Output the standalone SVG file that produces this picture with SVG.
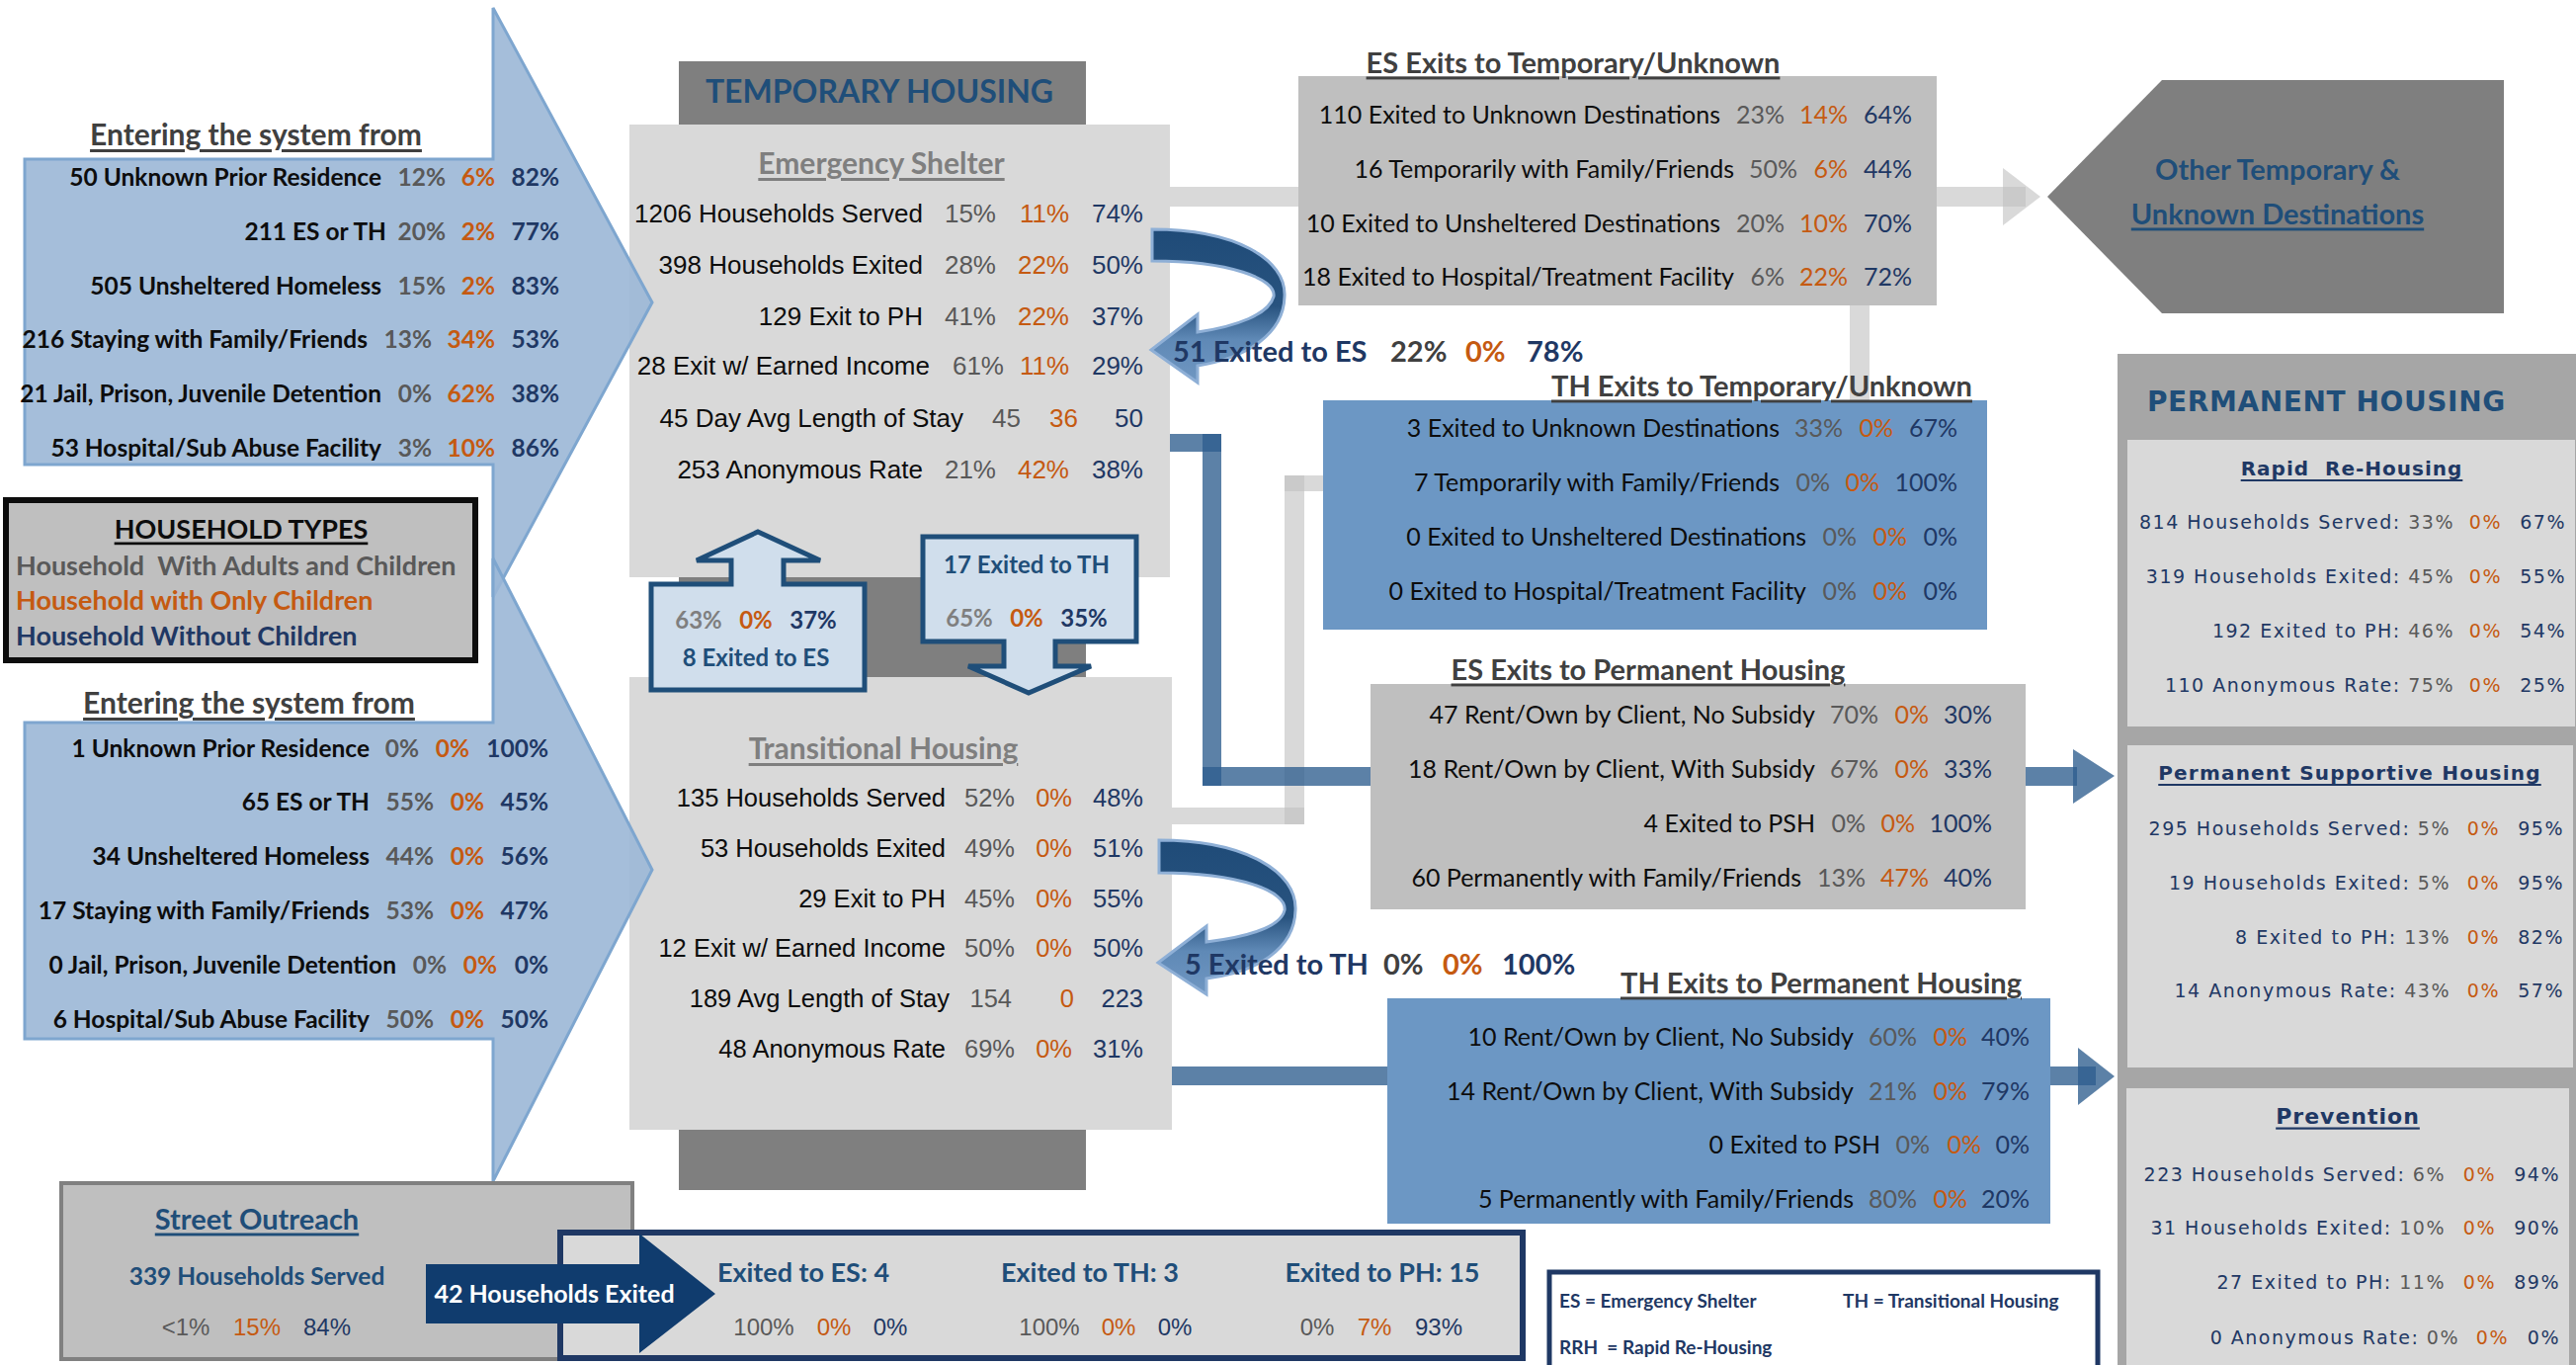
<svg xmlns="http://www.w3.org/2000/svg" width="2607" height="1381" viewBox="0 0 2607 1381">
<style>
text{dominant-baseline:central}
.c{font-family:Lato,"Open Sans",sans-serif}
.a{font-family:"Liberation Sans",Arial,sans-serif}
.w{font-family:"DejaVu Sans",sans-serif}
.b{font-weight:700}
.u{text-decoration:underline}
.e{text-anchor:end}
.m{text-anchor:middle}
.k{fill:#0D0D0D}
.g{fill:#595959}
.lg{fill:#7F7F7F}
.o{fill:#C55A11}
.n{fill:#1F3864}
.nb{fill:#1F4E79}
.t{fill:#404040}
.wh{fill:#FFFFFF}
.bigarrow{fill:#9BB7D6;fill-opacity:.9;stroke:#7EA6CF;stroke-width:3}
.callout{fill:#D0DEEC;stroke:#1F4E79;stroke-width:5}
.gbar{fill:#BFBFBF;opacity:.6}
.bbar{fill:#2E5E8E;opacity:.78}
.curve{fill:url(#cg);stroke:#8EAFD6;stroke-width:3}
.ph{font-size:19px;letter-spacing:1.5px}
</style>
<defs>
<linearGradient id="cg" x1="0" y1="0" x2="0" y2="1">
<stop offset="0" stop-color="#1F4B78"/>
<stop offset="0.5" stop-color="#28537F"/>
<stop offset="0.72" stop-color="#5F89B6"/>
<stop offset="1" stop-color="#7097C2"/>
</linearGradient>
</defs>
<rect width="2607" height="1381" fill="#FFFFFF"/>

<!-- Temporary housing column -->
<g id="temporary-housing">
<rect x="687" y="62" width="412" height="1142" fill="#7F7F7F"/>
<text x="890" y="91" class="c b m nb" font-size="32">TEMPORARY HOUSING</text>
</g>

<g id="emergency-shelter" class="a" font-size="26">
<rect x="637" y="126" width="547" height="458" fill="#D9D9D9"/>
<text x="892" y="164" class="c b m lg u" font-size="30">Emergency Shelter</text>
<text y="216" class="e"><tspan x="934" class="k">1206 Households Served</tspan><tspan x="1008" class="g">15%</tspan><tspan x="1082" class="o">11%</tspan><tspan x="1157" class="n">74%</tspan></text>
<text y="268" class="e"><tspan x="934" class="k">398 Households Exited</tspan><tspan x="1008" class="g">28%</tspan><tspan x="1082" class="o">22%</tspan><tspan x="1157" class="n">50%</tspan></text>
<text y="320" class="e"><tspan x="934" class="k">129 Exit to PH</tspan><tspan x="1008" class="g">41%</tspan><tspan x="1082" class="o">22%</tspan><tspan x="1157" class="n">37%</tspan></text>
<text y="370" class="e"><tspan x="941" class="k">28 Exit w/ Earned Income</tspan><tspan x="1016" class="g">61%</tspan><tspan x="1082" class="o">11%</tspan><tspan x="1157" class="n">29%</tspan></text>
<text y="423" class="e"><tspan x="975" class="k">45 Day Avg Length of Stay</tspan><tspan x="1033" class="g">45</tspan><tspan x="1091" class="o">36</tspan><tspan x="1157" class="n">50</tspan></text>
<text y="475" class="e"><tspan x="934" class="k">253 Anonymous Rate</tspan><tspan x="1008" class="g">21%</tspan><tspan x="1082" class="o">42%</tspan><tspan x="1157" class="n">38%</tspan></text>
</g>

<g id="transitional-housing" class="a" font-size="25.5">
<rect x="637" y="685" width="549" height="458" fill="#D9D9D9"/>
<text x="894" y="756" class="c b m lg u" font-size="30">Transitional Housing</text>
<text y="807" class="e"><tspan x="957" class="k">135 Households Served</tspan><tspan x="1027" class="g">52%</tspan><tspan x="1085" class="o">0%</tspan><tspan x="1157" class="n">48%</tspan></text>
<text y="858" class="e"><tspan x="957" class="k">53 Households Exited</tspan><tspan x="1027" class="g">49%</tspan><tspan x="1085" class="o">0%</tspan><tspan x="1157" class="n">51%</tspan></text>
<text y="909" class="e"><tspan x="957" class="k">29 Exit to PH</tspan><tspan x="1027" class="g">45%</tspan><tspan x="1085" class="o">0%</tspan><tspan x="1157" class="n">55%</tspan></text>
<text y="959" class="e"><tspan x="957" class="k">12 Exit w/ Earned Income</tspan><tspan x="1027" class="g">50%</tspan><tspan x="1085" class="o">0%</tspan><tspan x="1157" class="n">50%</tspan></text>
<text y="1010" class="e"><tspan x="961" class="k">189 Avg Length of Stay</tspan><tspan x="1024" class="g">154</tspan><tspan x="1087" class="o">0</tspan><tspan x="1157" class="n">223</tspan></text>
<text y="1061" class="e"><tspan x="957" class="k">48 Anonymous Rate</tspan><tspan x="1027" class="g">69%</tspan><tspan x="1085" class="o">0%</tspan><tspan x="1157" class="n">31%</tspan></text>
</g>

<!-- Entry arrows -->
<g id="entry-es" class="c b" font-size="24.5">
<polygon class="bigarrow" points="25,161 499,161 499,8 660,306 499,604 499,470 25,470"/>
<text x="259" y="135" class="m t u" font-size="30">Entering the system from</text>
<text y="178" class="e"><tspan x="386" class="k">50 Unknown Prior Residence</tspan><tspan x="451" class="g">12%</tspan><tspan x="501" class="o">6%</tspan><tspan x="566" class="n">82%</tspan></text>
<text y="233" class="e"><tspan x="391" class="k">211 ES or TH</tspan><tspan x="451" class="g">20%</tspan><tspan x="501" class="o">2%</tspan><tspan x="566" class="n">77%</tspan></text>
<text y="288" class="e"><tspan x="386" class="k">505 Unsheltered Homeless</tspan><tspan x="451" class="g">15%</tspan><tspan x="501" class="o">2%</tspan><tspan x="566" class="n">83%</tspan></text>
<text y="342" class="e"><tspan x="372" class="k">216 Staying with Family/Friends</tspan><tspan x="437" class="g">13%</tspan><tspan x="501" class="o">34%</tspan><tspan x="566" class="n">53%</tspan></text>
<text y="397" class="e"><tspan x="386" class="k">21 Jail, Prison, Juvenile Detention</tspan><tspan x="437" class="g">0%</tspan><tspan x="501" class="o">62%</tspan><tspan x="566" class="n">38%</tspan></text>
<text y="452" class="e"><tspan x="386" class="k">53 Hospital/Sub Abuse Facility</tspan><tspan x="437" class="g">3%</tspan><tspan x="501" class="o">10%</tspan><tspan x="566" class="n">86%</tspan></text>
</g>

<g id="entry-th" class="c b" font-size="24.5">
<polygon class="bigarrow" points="25,731 499,731 499,565 660,880 499,1195 499,1051 25,1051"/>
<text x="252" y="710" class="m t u" font-size="30">Entering the system from</text>
<text y="756" class="e"><tspan x="374" class="k">1 Unknown Prior Residence</tspan><tspan x="424" class="g">0%</tspan><tspan x="475" class="o">0%</tspan><tspan x="555" class="n">100%</tspan></text>
<text y="810" class="e"><tspan x="374" class="k">65 ES or TH</tspan><tspan x="439" class="g">55%</tspan><tspan x="490" class="o">0%</tspan><tspan x="555" class="n">45%</tspan></text>
<text y="865" class="e"><tspan x="374" class="k">34 Unsheltered Homeless</tspan><tspan x="439" class="g">44%</tspan><tspan x="490" class="o">0%</tspan><tspan x="555" class="n">56%</tspan></text>
<text y="920" class="e"><tspan x="374" class="k">17 Staying with Family/Friends</tspan><tspan x="439" class="g">53%</tspan><tspan x="490" class="o">0%</tspan><tspan x="555" class="n">47%</tspan></text>
<text y="975" class="e"><tspan x="401" class="k">0 Jail, Prison, Juvenile Detention</tspan><tspan x="452" class="g">0%</tspan><tspan x="503" class="o">0%</tspan><tspan x="555" class="n">0%</tspan></text>
<text y="1030" class="e"><tspan x="374" class="k">6 Hospital/Sub Abuse Facility</tspan><tspan x="439" class="g">50%</tspan><tspan x="490" class="o">0%</tspan><tspan x="555" class="n">50%</tspan></text>
</g>

<g id="household-types" class="c b" font-size="27">
<rect x="6" y="506" width="475" height="162" fill="#BFBFBF" stroke="#0D0D0D" stroke-width="6"/>
<text x="244" y="534" class="m k u">HOUSEHOLD TYPES</text>
<text x="16" y="571" class="g" xml:space="preserve">Household  With Adults and Children</text>
<text x="16" y="606" class="o">Household with Only Children</text>
<text x="16" y="642" class="n">Household Without Children</text>
</g>

<!-- Connectors -->
<g id="connectors">
<rect class="gbar" x="1184" y="189" width="866" height="20"/>
<polygon class="gbar" points="2027,170 2065,199 2027,228"/>
<rect class="gbar" x="1872" y="309" width="20" height="96"/>
<rect class="gbar" x="1186" y="817" width="134" height="17"/>
<rect class="gbar" x="1300" y="481" width="20" height="353"/>
<rect class="gbar" x="1300" y="481" width="39" height="16"/>
<rect class="bbar" x="1184" y="439" width="52" height="18"/>
<rect class="bbar" x="1217" y="439" width="19" height="356"/>
<rect class="bbar" x="1217" y="776" width="885" height="19"/>
<polygon class="bbar" points="2098,758 2140,785 2098,813"/>
<rect class="bbar" x="1186" y="1079" width="935" height="19"/>
<polygon class="bbar" points="2103,1060 2140,1089 2103,1118"/>
</g>

<!-- Exit boxes -->
<g id="es-exits-temp" class="c" font-size="25">
<rect x="1314" y="77" width="646" height="232" fill="#BFBFBF"/>
<text x="1592" y="62" class="b m t u" font-size="29">ES Exits to Temporary/Unknown</text>
<text y="115" class="e"><tspan x="1741" class="k">110 Exited to Unknown Destinations</tspan><tspan x="1806" class="g">23%</tspan><tspan x="1870" class="o">14%</tspan><tspan x="1935" class="n">64%</tspan></text>
<text y="170" class="e"><tspan x="1755" class="k">16 Temporarily with Family/Friends</tspan><tspan x="1819" class="g">50%</tspan><tspan x="1870" class="o">6%</tspan><tspan x="1935" class="n">44%</tspan></text>
<text y="225" class="e"><tspan x="1741" class="k">10 Exited to Unsheltered Destinations</tspan><tspan x="1806" class="g">20%</tspan><tspan x="1870" class="o">10%</tspan><tspan x="1935" class="n">70%</tspan></text>
<text y="279" class="e"><tspan x="1755" class="k">18 Exited to Hospital/Treatment Facility</tspan><tspan x="1806" class="g">6%</tspan><tspan x="1870" class="o">22%</tspan><tspan x="1935" class="n">72%</tspan></text>
</g>

<g id="th-exits-temp" class="c" font-size="25">
<rect x="1339" y="405" width="672" height="232" fill="#6C97C4"/>
<text x="1783" y="389" class="b m t u" font-size="29">TH Exits to Temporary/Unknown</text>
<text y="432" class="e"><tspan x="1801" class="k">3 Exited to Unknown Destinations</tspan><tspan x="1865" class="g">33%</tspan><tspan x="1916" class="o">0%</tspan><tspan x="1981" class="n">67%</tspan></text>
<text y="487" class="e"><tspan x="1801" class="k">7 Temporarily with Family/Friends</tspan><tspan x="1852" class="g">0%</tspan><tspan x="1902" class="o">0%</tspan><tspan x="1981" class="n">100%</tspan></text>
<text y="542" class="e"><tspan x="1828" class="k">0 Exited to Unsheltered Destinations</tspan><tspan x="1879" class="g">0%</tspan><tspan x="1930" class="o">0%</tspan><tspan x="1981" class="n">0%</tspan></text>
<text y="597" class="e"><tspan x="1828" class="k">0 Exited to Hospital/Treatment Facility</tspan><tspan x="1879" class="g">0%</tspan><tspan x="1930" class="o">0%</tspan><tspan x="1981" class="n">0%</tspan></text>
</g>

<g id="es-exits-ph" class="c" font-size="25">
<rect x="1387" y="692" width="663" height="228" fill="#BFBFBF"/>
<text x="1668" y="676" class="b m t u" font-size="29">ES Exits to Permanent Housing</text>
<text y="722" class="e"><tspan x="1837" class="k">47 Rent/Own by Client, No Subsidy</tspan><tspan x="1901" class="g">70%</tspan><tspan x="1952" class="o">0%</tspan><tspan x="2016" class="n">30%</tspan></text>
<text y="777" class="e"><tspan x="1837" class="k">18 Rent/Own by Client, With Subsidy</tspan><tspan x="1901" class="g">67%</tspan><tspan x="1952" class="o">0%</tspan><tspan x="2016" class="n">33%</tspan></text>
<text y="832" class="e"><tspan x="1837" class="k">4 Exited to PSH</tspan><tspan x="1888" class="g">0%</tspan><tspan x="1938" class="o">0%</tspan><tspan x="2016" class="n">100%</tspan></text>
<text y="887" class="e"><tspan x="1823" class="k">60 Permanently with Family/Friends</tspan><tspan x="1888" class="g">13%</tspan><tspan x="1952" class="o">47%</tspan><tspan x="2016" class="n">40%</tspan></text>
</g>

<g id="th-exits-ph" class="c" font-size="25">
<rect x="1404" y="1010" width="671" height="228" fill="#6C97C4"/>
<text x="1843" y="993" class="b m t u" font-size="29">TH Exits to Permanent Housing</text>
<text y="1048" class="e"><tspan x="1876" class="k">10 Rent/Own by Client, No Subsidy</tspan><tspan x="1940" class="g">60%</tspan><tspan x="1991" class="o">0%</tspan><tspan x="2054" class="n">40%</tspan></text>
<text y="1103" class="e"><tspan x="1876" class="k">14 Rent/Own by Client, With Subsidy</tspan><tspan x="1940" class="g">21%</tspan><tspan x="1991" class="o">0%</tspan><tspan x="2054" class="n">79%</tspan></text>
<text y="1157" class="e"><tspan x="1903" class="k">0 Exited to PSH</tspan><tspan x="1953" class="g">0%</tspan><tspan x="2005" class="o">0%</tspan><tspan x="2054" class="n">0%</tspan></text>
<text y="1212" class="e"><tspan x="1876" class="k">5 Permanently with Family/Friends</tspan><tspan x="1940" class="g">80%</tspan><tspan x="1991" class="o">0%</tspan><tspan x="2054" class="n">20%</tspan></text>
</g>

<!-- Curved self-exit arrows -->
<g id="es-to-es" class="c b" font-size="29">
<path class="curve" d="M1166,232 C1250,232 1302,262 1300,300 C1299,338 1262,362 1212,370 L1212,387 L1165,354 L1212,318 L1212,336 C1252,330 1284,318 1289,300 C1292,282 1244,264 1166,264 Z"/>
<text x="1187" y="354" class="n">51 Exited to ES</text>
<text x="1407" y="354" class="t">22%</text>
<text x="1483" y="354" class="o">0%</text>
<text x="1545" y="354" class="n">78%</text>
</g>

<g id="th-to-th" class="c b" font-size="29">
<path class="curve" d="M1173,850 C1260,850 1313,882 1311,921 C1310,960 1272,984 1221,990 L1221,1006 L1172,974 L1221,937 L1221,953 C1262,948 1296,938 1300,921 C1303,902 1255,883 1173,883 Z"/>
<text x="1199" y="974" class="n">5 Exited to TH</text>
<text x="1400" y="974" class="t">0%</text>
<text x="1460" y="974" class="o">0%</text>
<text x="1520" y="974" class="n">100%</text>
</g>

<!-- Callouts between ES and TH -->
<g id="th-to-es" class="c b" font-size="24">
<path class="callout" d="M659,591 H740 V567 H705 L767,538 L830,567 H793 V591 H875 V698 H659 Z"/>
<text x="707" y="626" class="m lg">63%</text>
<text x="765" y="626" class="m o">0%</text>
<text x="823" y="626" class="m n">37%</text>
<text x="765" y="664" class="m nb">8 Exited to ES</text>
</g>

<g id="es-to-th" class="c b" font-size="24">
<path class="callout" d="M934,543 H1150 V649 H1068 V674 H1104 L1041,701 L980,674 H1016 V649 H934 Z"/>
<text x="1039" y="570" class="m nb">17 Exited to TH</text>
<text x="981" y="624" class="m lg">65%</text>
<text x="1039" y="624" class="m o">0%</text>
<text x="1097" y="624" class="m n">35%</text>
</g>

<!-- Other temporary destinations -->
<g id="other-temporary" class="c b" font-size="29">
<polygon points="2072,199 2188,81 2534,81 2534,317 2188,317" fill="#7F7F7F"/>
<text x="2305" y="170" class="m nb">Other Temporary &amp;</text>
<text x="2305" y="215" class="m nb u">Unknown Destinations</text>
</g>

<!-- Permanent housing -->
<g id="permanent-housing" class="w">
<rect x="2143" y="358" width="464" height="1023" fill="#A6A6A6"/>
<text x="2173" y="406" class="b nb" font-size="28" letter-spacing="0.6">PERMANENT HOUSING</text>
</g>

<g id="rapid-rehousing" class="w">
<rect x="2153" y="445" width="453" height="290" fill="#D9D9D9"/>
<text x="2380" y="474" class="b m n u" font-size="20" letter-spacing="1" xml:space="preserve">Rapid  Re-Housing</text>
<g class="ph">
<text y="528" class="e"><tspan x="2484" class="n">814 Households Served: <tspan class="g">33%</tspan></tspan><tspan x="2532" class="o">0%</tspan><tspan x="2597" class="n">67%</tspan></text>
<text y="583" class="e"><tspan x="2484" class="n">319 Households Exited: <tspan class="g">45%</tspan></tspan><tspan x="2532" class="o">0%</tspan><tspan x="2597" class="n">55%</tspan></text>
<text y="638" class="e"><tspan x="2484" class="n">192 Exited to PH: <tspan class="g">46%</tspan></tspan><tspan x="2532" class="o">0%</tspan><tspan x="2597" class="n">54%</tspan></text>
<text y="693" class="e"><tspan x="2484" class="n">110 Anonymous Rate: <tspan class="g">75%</tspan></tspan><tspan x="2532" class="o">0%</tspan><tspan x="2597" class="n">25%</tspan></text>
</g>
</g>

<g id="permanent-supportive-housing" class="w">
<rect x="2153" y="754" width="451" height="326" fill="#D9D9D9"/>
<text x="2378" y="782" class="b m n u" font-size="20" letter-spacing="1.2">Permanent Supportive Housing</text>
<g class="ph">
<text y="838" class="e"><tspan x="2480" class="n">295 Households Served: <tspan class="g">5%</tspan></tspan><tspan x="2530" class="o">0%</tspan><tspan x="2595" class="n">95%</tspan></text>
<text y="893" class="e"><tspan x="2480" class="n">19 Households Exited: <tspan class="g">5%</tspan></tspan><tspan x="2530" class="o">0%</tspan><tspan x="2595" class="n">95%</tspan></text>
<text y="948" class="e"><tspan x="2480" class="n">8 Exited to PH: <tspan class="g">13%</tspan></tspan><tspan x="2530" class="o">0%</tspan><tspan x="2595" class="n">82%</tspan></text>
<text y="1002" class="e"><tspan x="2480" class="n">14 Anonymous Rate: <tspan class="g">43%</tspan></tspan><tspan x="2530" class="o">0%</tspan><tspan x="2595" class="n">57%</tspan></text>
</g>
</g>

<g id="prevention" class="w">
<rect x="2152" y="1101" width="448" height="290" fill="#D9D9D9"/>
<text x="2376" y="1129" class="b m n u" font-size="22" letter-spacing="1">Prevention</text>
<g class="ph">
<text y="1188" class="e"><tspan x="2475" class="n">223 Households Served: <tspan class="g">6%</tspan></tspan><tspan x="2526" class="o">0%</tspan><tspan x="2591" class="n">94%</tspan></text>
<text y="1242" class="e"><tspan x="2475" class="n">31 Households Exited: <tspan class="g">10%</tspan></tspan><tspan x="2526" class="o">0%</tspan><tspan x="2591" class="n">90%</tspan></text>
<text y="1297" class="e"><tspan x="2475" class="n">27 Exited to PH: <tspan class="g">11%</tspan></tspan><tspan x="2526" class="o">0%</tspan><tspan x="2591" class="n">89%</tspan></text>
<text y="1353" class="e"><tspan x="2489" class="n">0 Anonymous Rate: <tspan class="g">0%</tspan></tspan><tspan x="2539" class="o">0%</tspan><tspan x="2591" class="n">0%</tspan></text>
</g>
</g>

<!-- Street outreach -->
<g id="street-outreach">
<rect x="62" y="1197" width="578" height="178" fill="#BFBFBF" stroke="#808080" stroke-width="4"/>
<text x="260" y="1232" class="c b m nb u" font-size="29">Street Outreach</text>
<text x="260" y="1290" class="c b m nb" font-size="24.5">339 Households Served</text>
<g class="a m" font-size="24">
<text x="188" y="1342" class="g">&lt;1%</text>
<text x="260" y="1342" class="o">15%</text>
<text x="331" y="1342" class="n">84%</text>
</g>
</g>

<g id="outreach-exits">
<rect x="567" y="1247" width="974" height="127" fill="#D9D9D9" stroke="#1F3864" stroke-width="6"/>
<polygon points="431,1279 647,1279 647,1248 724,1309 647,1369 647,1339 431,1339" fill="#103C6E"/>
<text x="561" y="1308" class="c b m wh" font-size="25">42 Households Exited</text>
<g class="c b m nb" font-size="27">
<text x="813" y="1286">Exited to ES: 4</text>
<text x="1103" y="1286">Exited to TH: 3</text>
<text x="1399" y="1286">Exited to PH: 15</text>
</g>
<g class="a m" font-size="24">
<text x="773" y="1342" class="g">100%</text>
<text x="844" y="1342" class="o">0%</text>
<text x="901" y="1342" class="n">0%</text>
<text x="1062" y="1342" class="g">100%</text>
<text x="1132" y="1342" class="o">0%</text>
<text x="1189" y="1342" class="n">0%</text>
<text x="1333" y="1342" class="g">0%</text>
<text x="1391" y="1342" class="o">7%</text>
<text x="1456" y="1342" class="n">93%</text>
</g>
</g>

<g id="legend" class="c b n" font-size="19">
<rect x="1568" y="1287" width="555" height="120" fill="#FFFFFF" stroke="#1F3864" stroke-width="5"/>
<text x="1578" y="1315">ES = Emergency Shelter</text>
<text x="1865" y="1315">TH = Transitional Housing</text>
<text x="1578" y="1362" xml:space="preserve">RRH  = Rapid Re-Housing</text>
</g>
</svg>
